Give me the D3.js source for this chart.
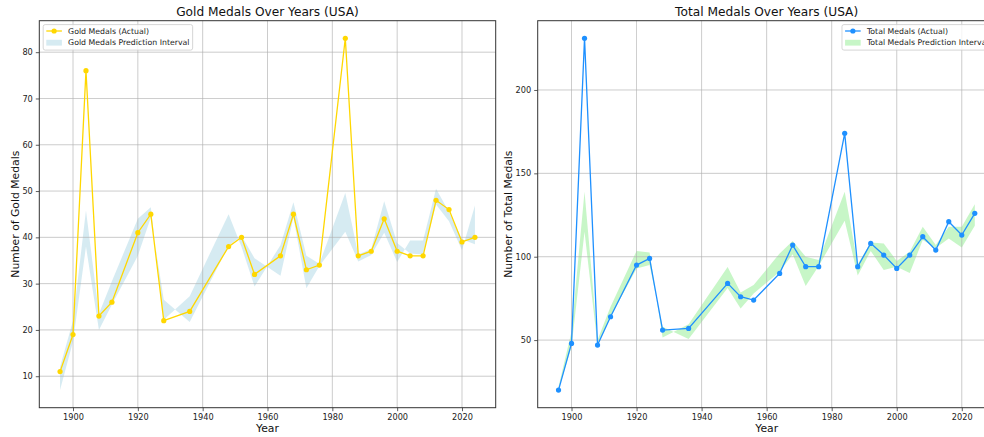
<!DOCTYPE html>
<html>
<head>
<meta charset="utf-8">
<script src="https://cdn.jsdelivr.net/npm/d3@7"></script>
<style>
  body { margin: 0; background: #fff; }
  svg { display: block; font-family: "DejaVu Sans", sans-serif; }
</style>
</head>
<body>
<script>
// olympic years shown (no 1932, 1960, 1980 in the source table)
const years = [1896, 1900, 1904, 1908, 1912, 1920, 1924, 1928, 1936, 1948, 1952, 1956, 1964, 1968,
  1972, 1976, 1984, 1988, 1992, 1996, 2000, 2004, 2008, 2012, 2016, 2020, 2024]

const goldActual = [11, 19, 76, 23, 26, 41, 45, 22, 24, 38, 40, 32, 36, 45,
  33, 34, 83, 36, 37, 44, 37, 36, 36, 48, 46, 39, 40]
// prediction interval edges (they cross in a few places, as in the picture)
const goldLower = [7.0, 17.5, 38.0, 20.0, 25.5, 36.0, 44.3, 26.5, 21.7, 38.2, 40.3, 35.5, 31.7, 44.3,
  29.0, 33.8, 41.2, 34.8, 36.2, 41.0, 34.7, 39.3, 39.3, 50.5, 45.5, 39.6, 38.5]
const goldUpper = [12.0, 22.0, 45.8, 23.5, 30.5, 44.0, 46.5, 22.2, 27.3, 45.0, 37.9, 29.4, 38.3, 47.6,
  36.0, 34.3, 49.6, 36.3, 37.5, 47.8, 38.8, 36.5, 36.3, 47.1, 43.5, 37.2, 46.9]

const totalActual = [20, 48, 231, 47, 64, 95, 99, 56, 57, 84, 76, 74, 90, 107,
  94, 94, 174, 94, 108, 101, 93, 101, 112, 104, 121, 113, 126]
const totalLower = [20, 46, 115, 47, 64, 93, 95, 58, 50.6, 81.3, 69, 78, 91, 101.5,
  82.5, 94.5, 121.5, 88.8, 103.5, 92, 94, 90.3, 110, 105.2, 111, 105.6, 118.5]
const totalUpper = [22, 55, 139, 50, 70, 103.5, 102.5, 51.5, 59.5, 93.8, 78.5, 83, 102, 109.5,
  100, 98, 139, 95.5, 108.5, 108, 97.5, 103, 118, 107, 118, 118, 131.5]

const yearTicks = [1900, 1920, 1940, 1960, 1980, 2000, 2020]
const goldTicks = [10, 20, 30, 40, 50, 60, 70, 80]
const totalTicks = [50, 100, 150, 200]

let width = 984
let height = 437
let plotTop = 20.7
let plotBottom = 407.7

const svg = d3.select("body")
  .append("svg")
  .attr("width", width)
  .attr("height", height)

function drawPanel(opt) {
  const pts = years.map((yr, i) => ({ year: yr, v: opt.actual[i], lo: opt.lower[i], hi: opt.upper[i] }))

  // matplotlib style 5% margins
  const xe = d3.extent(years)
  const xp = (xe[1] - xe[0]) * 0.05
  const x = d3.scaleLinear().domain([xe[0] - xp, xe[1] + xp]).range([opt.left, opt.right])

  const ye = d3.extent(opt.actual.concat(opt.lower, opt.upper))
  const yp = (ye[1] - ye[0]) * 0.05
  const y = d3.scaleLinear().domain([ye[0] - yp, ye[1] + yp]).range([plotBottom, plotTop])

  const g = svg.append("g")

  // band
  g.append("path")
    .datum(pts)
    .attr("d", d3.area().x(d => x(d.year)).y0(d => y(d.lo)).y1(d => y(d.hi)))
    .attr("fill", opt.bandColor)
    .attr("fill-opacity", 0.5)

  // grid
  g.append("g").selectAll("line").data(yearTicks).join("line")
    .attr("x1", d => x(d)).attr("x2", d => x(d))
    .attr("y1", plotTop).attr("y2", plotBottom)
    .attr("stroke", "#b0b0b0").attr("stroke-width", 0.8).attr("opacity", 0.8)
  g.append("g").selectAll("line").data(opt.yTicks).join("line")
    .attr("x1", opt.left).attr("x2", opt.right)
    .attr("y1", d => y(d)).attr("y2", d => y(d))
    .attr("stroke", "#b0b0b0").attr("stroke-width", 0.8).attr("opacity", 0.8)

  // axes
  const xAxis = g.append("g")
    .attr("transform", `translate(0,${plotBottom})`)
    .call(d3.axisBottom(x).tickValues(yearTicks).tickFormat(d3.format("d")).tickSize(3.5).tickPadding(3))
  const yAxis = g.append("g")
    .attr("transform", `translate(${opt.left},0)`)
    .call(d3.axisLeft(y).tickValues(opt.yTicks).tickSize(3.5).tickPadding(3))
  for (const a of [xAxis, yAxis]) {
    a.select(".domain").remove()
    a.selectAll("text").attr("font-size", 8.2).attr("fill", "#222").attr("font-family", "DejaVu Sans")
    a.selectAll("line").attr("stroke", "#333").attr("stroke-width", 0.8)
  }

  g.append("rect")
    .attr("x", opt.left).attr("y", plotTop)
    .attr("width", opt.right - opt.left).attr("height", plotBottom - plotTop)
    .attr("fill", "none").attr("stroke", "#333").attr("stroke-width", 1)

  // actual line + dots
  g.append("path")
    .datum(pts)
    .attr("d", d3.line().x(d => x(d.year)).y(d => y(d.v)))
    .attr("fill", "none")
    .attr("stroke", opt.lineColor)
    .attr("stroke-width", 1.3)
  g.append("g").selectAll("circle").data(pts).join("circle")
    .attr("cx", d => x(d.year))
    .attr("cy", d => y(d.v))
    .attr("r", 2.6)
    .attr("fill", opt.lineColor)

  // titles
  const mid = (opt.left + opt.right) / 2
  g.append("text").attr("x", mid).attr("y", 16)
    .attr("text-anchor", "middle").attr("font-size", 12.2).attr("fill", "#111")
    .text(opt.title)
  g.append("text").attr("x", mid).attr("y", 432)
    .attr("text-anchor", "middle").attr("font-size", 10.8).attr("fill", "#111")
    .text("Year")
  g.append("text")
    .attr("transform", `translate(${opt.left - opt.labelGap},${(plotTop + plotBottom) / 2}) rotate(-90)`)
    .attr("text-anchor", "middle").attr("font-size", 10.8).attr("fill", "#111")
    .text(opt.yLabel)

  // legend
  const fs = 7.8
  const lg = g.append("g")
  const box = lg.append("rect")
  const labels = lg.selectAll("text").data(opt.names).join("text")
    .attr("font-size", fs).attr("fill", "#222")
    .attr("dy", "0.35em")
    .text(d => d)
  let tw = 0
  labels.each(function () { tw = Math.max(tw, this.getComputedTextLength()) })
  const bw = 3.1 + 15.6 + 6.2 + tw + 3.1
  const bx = opt.legendSide === "left" ? opt.left + 3.9 : opt.right - 3.9 - bw
  const by = plotTop + 3.9
  const rows = [by + 6.4, by + 18.1]
  box.attr("x", bx).attr("y", by).attr("width", bw).attr("height", 25.5)
    .attr("rx", 2).attr("fill", "#fff").attr("fill-opacity", 0.8)
    .attr("stroke", "#ccc").attr("stroke-width", 0.8)
  labels.attr("x", bx + 3.1 + 15.6 + 6.2).attr("y", (d, i) => rows[i])
  const hx = bx + 3.1
  lg.append("line").attr("x1", hx).attr("x2", hx + 15.6).attr("y1", rows[0]).attr("y2", rows[0])
    .attr("stroke", opt.lineColor).attr("stroke-width", 1.3)
  lg.append("circle").attr("cx", hx + 7.8).attr("cy", rows[0]).attr("r", 2.6).attr("fill", opt.lineColor)
  lg.append("rect").attr("x", hx).attr("y", rows[1] - 2.9).attr("width", 15.6).attr("height", 5.8)
    .attr("fill", opt.bandColor).attr("fill-opacity", 0.5)
}

drawPanel({
  left: 39.3, right: 495.7, labelGap: 20,
  title: "Gold Medals Over Years (USA)",
  yLabel: "Number of Gold Medals",
  actual: goldActual, lower: goldLower, upper: goldUpper,
  yTicks: goldTicks,
  lineColor: "gold", bandColor: "lightblue",
  names: ["Gold Medals (Actual)", "Gold Medals Prediction Interval"],
  legendSide: "left"
})

// right panel runs past the window edge, like the reference crop
drawPanel({
  left: 537.7, right: 995.6, labelGap: 25.5,
  title: "Total Medals Over Years (USA)",
  yLabel: "Number of Total Medals",
  actual: totalActual, lower: totalLower, upper: totalUpper,
  yTicks: totalTicks,
  lineColor: "dodgerblue", bandColor: "lightgreen",
  names: ["Total Medals (Actual)", "Total Medals Prediction Interval"],
  legendSide: "right"
})
</script>
</body>
</html>
